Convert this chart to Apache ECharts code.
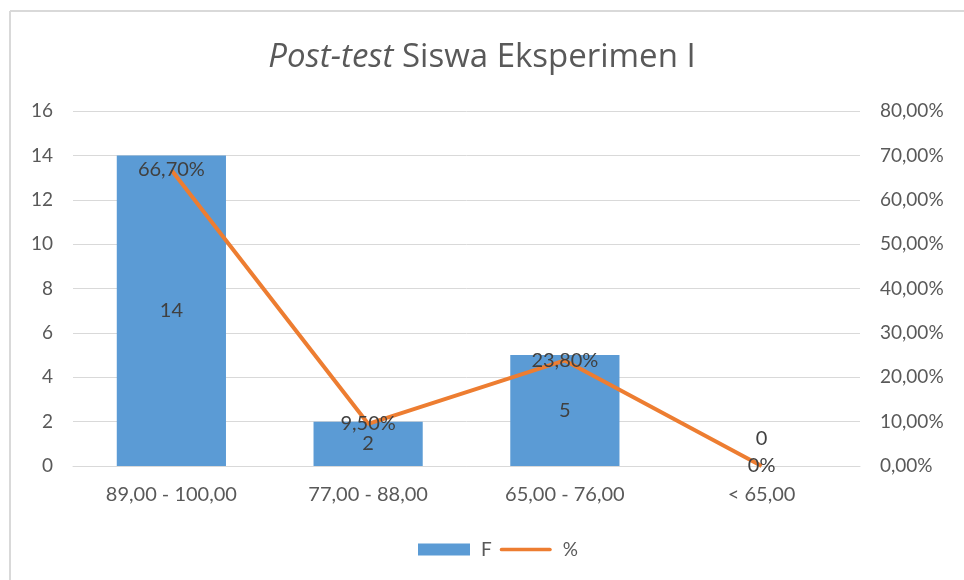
<!DOCTYPE html>
<html><head><meta charset="utf-8">
<script src="https://cdn.jsdelivr.net/npm/echarts@6/dist/echarts.min.js"></script>
<style>html,body{margin:0;padding:0;background:#fff}#c{width:964px;height:580px}</style>
</head><body><div id="c"></div>
<script>
const categories = ['89,00 - 100,00', '77,00 - 88,00', '65,00 - 76,00', '< 65,00'];
const freq = [14, 2, 5, 0];
const pct = [66.7, 9.5, 23.8, 0];
const leftTicks = {min: 0, max: 16, interval: 2};
const rightTicks = {min: 0, max: 80, interval: 10};

const font = 'Lato, "Open Sans", sans-serif';
const titleFont = '"Open Sans", Lato, sans-serif';
const pctFmt = v => v === 0 ? '0%' : v.toFixed(2).replace('.', ',') + '%';

const barData = freq.map(v => v === 0 ? {value: v, label: {offset: [0, -27]}} : v);

const chart = echarts.init(document.getElementById('c'));
chart.setOption({
  backgroundColor: '#fff',
  animation: false,
  title: {
    text: '{i|Post-test} Siswa Eksperimen I',
    left: 'center', top: 36,
    textStyle: {
      fontFamily: titleFont, fontSize: 33, fontWeight: 'normal', color: '#595959',
      rich: {i: {fontFamily: titleFont, fontSize: 33, fontStyle: 'italic', color: '#595959'}}
    }
  },
  graphic: [
    {type: 'line', shape: {x1: 10, y1: 11, x2: 964, y2: 11}, style: {stroke: '#d9d9d9', lineWidth: 2}},
    {type: 'line', shape: {x1: 10, y1: 11, x2: 10, y2: 580}, style: {stroke: '#d9d9d9', lineWidth: 2}}
  ],
  legend: {
    bottom: 16, left: 413,
    itemWidth: 52, itemHeight: 12, itemGap: 8,
    textStyle: {fontFamily: font, fontSize: 19, color: '#595959', padding: [0, 0, 0, 6]},
    data: [
      {name: 'F', icon: 'rect'},
      {name: '%', icon: 'path://M2,0 L54,0 A2,2 0 0 1 54,4 L2,4 A2,2 0 0 1 2,0 Z'}
    ]
  },
  grid: {left: 73, right: 104, top: 111, bottom: 114},
  xAxis: {
    type: 'category', data: categories,
    axisLine: {lineStyle: {color: '#d9d9d9', width: 1}},
    axisTick: {show: false},
    axisLabel: {fontFamily: font, fontSize: 20, color: '#595959', margin: 19}
  },
  yAxis: [
    {type: 'value', min: leftTicks.min, max: leftTicks.max, interval: leftTicks.interval,
     axisLine: {show: false}, axisTick: {show: false},
     splitLine: {lineStyle: {color: '#d9d9d9'}},
     axisLabel: {fontFamily: font, fontSize: 19, color: '#595959', margin: 20}},
    {type: 'value', min: rightTicks.min, max: rightTicks.max, interval: rightTicks.interval,
     axisLine: {show: false}, axisTick: {show: false},
     splitLine: {show: false},
     axisLabel: {fontFamily: font, fontSize: 19, color: '#595959', margin: 20,
       formatter: v => v.toFixed(2).replace('.', ',') + '%'}}
  ],
  series: [
    {name: 'F', type: 'bar', data: barData, barWidth: '55.5%', yAxisIndex: 0,
     itemStyle: {color: '#5b9bd5'},
     label: {show: true, position: 'inside', fontFamily: font, fontSize: 20, color: '#404040'}},
    {name: '%', type: 'line', data: pct, yAxisIndex: 1,
     symbol: 'circle', symbolSize: 0, showSymbol: true,
     lineStyle: {color: '#ed7d31', width: 4}, itemStyle: {color: '#ed7d31'},
     label: {show: true, position: 'inside', fontFamily: font, fontSize: 20, color: '#404040',
       formatter: p => pctFmt(p.value)}}
  ]
});
</script></body></html>
